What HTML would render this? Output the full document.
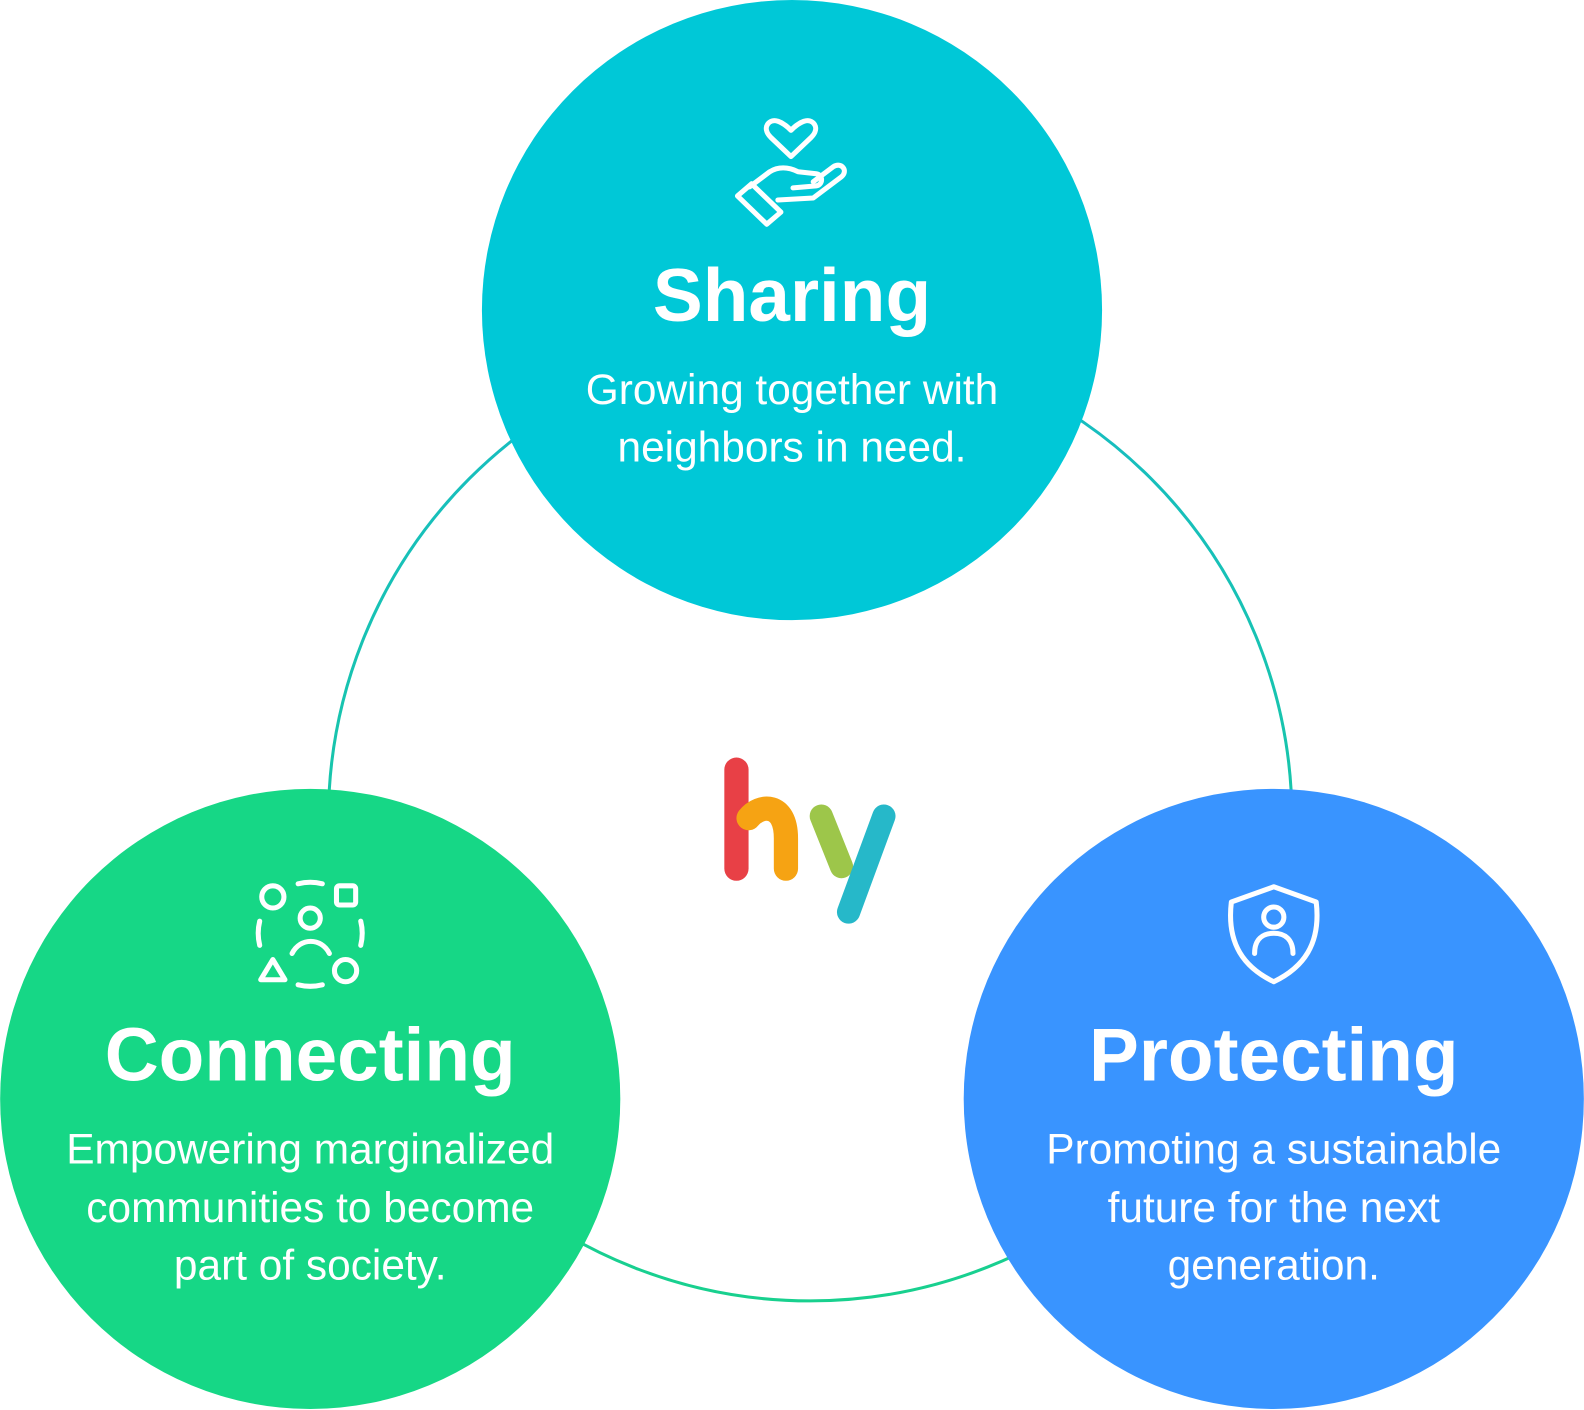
<!DOCTYPE html>
<html><head><meta charset="utf-8"><style>
html,body{margin:0;padding:0;background:#fff}
svg{display:block}
.t{font-family:"Liberation Sans",sans-serif;fill:#fff;text-anchor:middle}
.h{font-weight:bold;font-size:74px}
.s{font-size:42px}
.ic{fill:none;stroke:#fff;stroke-width:5;stroke-linecap:round;stroke-linejoin:round}
</style></head><body>
<svg width="1584" height="1410" viewBox="0 0 1568 1396" xmlns="http://www.w3.org/2000/svg">
<defs>
<linearGradient id="rg" x1="0" y1="0" x2="0" y2="1">
<stop offset="0" stop-color="#17bcc4"/><stop offset="1" stop-color="#18d08e"/>
</linearGradient>
</defs>
<circle cx="802" cy="811" r="477" fill="none" stroke="url(#rg)" stroke-width="3"/>
<circle cx="784" cy="307" r="307" fill="#00C8D7"/>
<circle cx="307" cy="1088" r="307" fill="#16D786"/>
<circle cx="1261" cy="1088" r="307" fill="#3994FF"/>

<g fill="none" stroke-linecap="round">
<line x1="729" y1="762" x2="729" y2="860" stroke="#E84046" stroke-width="24"/>
<path d="M741,810 C752,796 778,794 778,830 L778,860" stroke="#F6A313" stroke-width="24"/>
<line x1="813" y1="808" x2="833" y2="858" stroke="#9DC64A" stroke-width="23"/>
<line x1="875" y1="808" x2="840" y2="903" stroke="#26B8C9" stroke-width="23"/>
</g>

<g class="ic">
<path d="M783,155 L763,136 C753,126 762,117 770,120 C776,122 780,126 783,129 C786,126 790,122 796,120 C804,117 813,126 803,136 Z"/>
<path d="M742,185 L762,170 C770,165 780,165 790,170 L808,172 C815,173 815,183 808,184 L785,186"/>
<path d="M770,198 L805,196 L833,175 C840,169 833,160 825,165 L805,180"/>
<path d="M730,194 L744,182 L773,210 L759,222 Z"/>
</g>

<g class="ic">
<circle cx="270" cy="888" r="11"/>
<rect x="333" y="877" width="19" height="19" rx="3"/>
<circle cx="307" cy="909" r="10"/>
<path d="M289,944 C297,928 318,928 326,944"/>
<path d="M258,970 L270,950 L282,970 Z"/>
<circle cx="342" cy="961" r="11"/>
<path d="M295,875 C303,873 311,873 319,875"/>
<path d="M295,975 C303,977 311,977 319,975"/>
<path d="M257,912 C255,920 255,928 257,936"/>
<path d="M357,912 C359,920 359,928 357,936"/>
</g>

<g class="ic">
<path d="M1261,878 L1303,893 C1308,935 1290,958 1261,972 C1232,958 1214,935 1219,893 Z"/>
<circle cx="1261" cy="908" r="10"/>
<path d="M1242,944 C1242,930 1250,924 1261,924 C1272,924 1280,930 1280,944"/>
</g>

<text class="t h" x="784" y="318">Sharing</text>
<text class="t s" x="784" y="400">Growing together with</text>
<text class="t s" x="784" y="457">neighbors in need.</text>

<text class="t h" x="307" y="1070">Connecting</text>
<text class="t s" x="307" y="1152">Empowering marginalized</text>
<text class="t s" x="307" y="1210">communities to become</text>
<text class="t s" x="307" y="1267">part of society.</text>

<text class="t h" x="1261" y="1070">Protecting</text>
<text class="t s" x="1261" y="1152">Promoting a sustainable</text>
<text class="t s" x="1261" y="1210">future for the next</text>
<text class="t s" x="1261" y="1267">generation.</text>
</svg>
</body></html>
